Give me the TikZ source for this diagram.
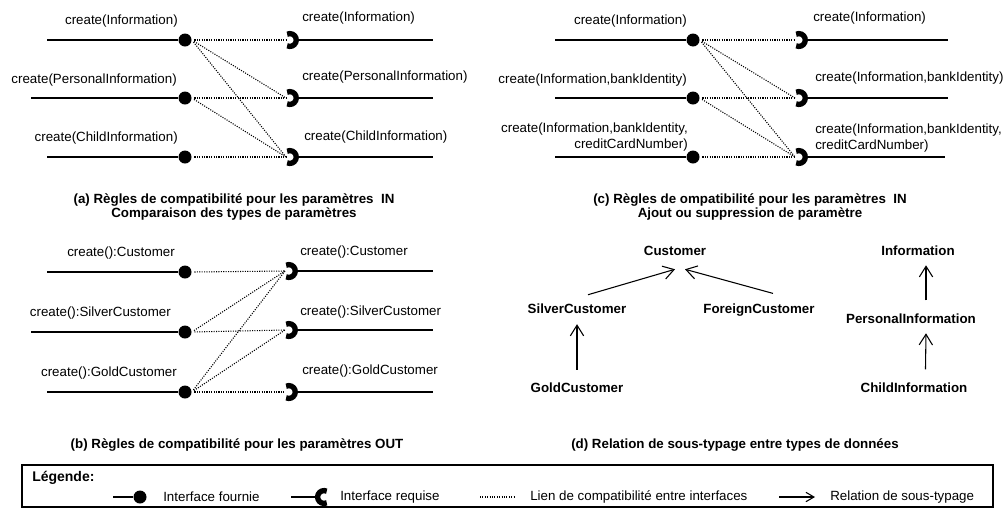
\documentclass[tikz,border=0pt]{standalone}
\usepackage{fontspec}
\setmainfont{Liberation Sans}
\usetikzlibrary{arrows.meta,positioning}

\tikzset{
  ball/.style={circle, fill=black, inner sep=0pt, minimum size=9.75pt},
  wire/.style={line width=1pt},
  link/.style={densely dotted, line width=0.8pt, shorten <=2pt},
  cupline/.style={line width=4pt},
  subtype/.style={-{Straight Barb[length=8pt, width=10pt]}, line width=0.8pt},
  caption/.style={font=\fontsize{10}{10.5}\selectfont\bfseries, align=center},
  typename/.style={font=\bfseries, inner sep=0pt, text height=7.5pt, text depth=2pt},
  opname/.style={inner sep=0pt}
}

\begin{document}
\begin{tikzpicture}[x=0.75pt, y=-0.75pt, font=\fontsize{10}{12}\selectfont]
  \useasboundingbox (0,0) rectangle (1005,508);

  % (a) parametres IN, types
  \node[ball] (a-p1) at (185,40) {};
  \node[ball] (a-p2) at (185,98) {};
  \node[ball] (a-p3) at (185,157) {};
  \coordinate (a-s1) at (47,40);
  \coordinate (a-s2) at (31,98);
  \coordinate (a-s3) at (47,157);
  \coordinate (a-r1) at (286,40);
  \coordinate (a-r2) at (286,98);
  \coordinate (a-r3) at (286,157);
  \coordinate (a-e1) at (433,40);
  \coordinate (a-e2) at (433,98);
  \coordinate (a-e3) at (433,157);
  \node[opname, anchor=east] (a-lt1) at (178,21) {create(Information)};
  \node[opname, anchor=east] (a-lt2) at (177,80) {create(PersonalInformation)};
  \node[opname, anchor=east] (a-lt3) at (178,138) {create(ChildInformation)};
  \node[opname, anchor=west] (a-rt1) at (302,18) {create(Information)};
  \node[opname, anchor=west] (a-rt2) at (302,77) {create(PersonalInformation)};
  \node[opname, anchor=west] (a-rt3) at (304,137) {create(ChildInformation)};

  % (b) parametres OUT
  \node[ball] (b-p1) at (185,272) {};
  \node[ball] (b-p2) at (185,332) {};
  \node[ball] (b-p3) at (185,392) {};
  \coordinate (b-s1) at (47,272);
  \coordinate (b-s2) at (31,332);
  \coordinate (b-s3) at (47,392);
  \coordinate (b-r1) at (285,271);
  \coordinate (b-r2) at (285,330);
  \coordinate (b-r3) at (285,392);
  \coordinate (b-e1) at (433,271);
  \coordinate (b-e2) at (433,330);
  \coordinate (b-e3) at (433,392);
  \node[opname, anchor=east] (b-lt1) at (175,253) {create():Customer};
  \node[opname, anchor=east] (b-lt2) at (171,313) {create():SilverCustomer};
  \node[opname, anchor=east] (b-lt3) at (177,373) {create():GoldCustomer};
  \node[opname, anchor=west] (b-rt1) at (300,252) {create():Customer};
  \node[opname, anchor=west] (b-rt2) at (300,312) {create():SilverCustomer};
  \node[opname, anchor=west] (b-rt3) at (302,371) {create():GoldCustomer};

  % (c) parametres IN, ajout / suppression
  \node[ball] (c-p1) at (693,40) {};
  \node[ball] (c-p2) at (693,98) {};
  \node[ball] (c-p3) at (693,157) {};
  \coordinate (c-s1) at (555,40);
  \coordinate (c-s2) at (555,98);
  \coordinate (c-s3) at (555,157);
  \coordinate (c-r1) at (795,40);
  \coordinate (c-r2) at (795,98);
  \coordinate (c-r3) at (795,157);
  \coordinate (c-e1) at (948,40);
  \coordinate (c-e2) at (948,98);
  \coordinate (c-e3) at (945,157);
  \node[opname, anchor=east] (c-lt1) at (687,21) {create(Information)};
  \node[opname, anchor=east] (c-lt2) at (687,80) {create(Information,bankIdentity)};
  \node[opname, anchor=east, align=right, font=\fontsize{10}{12.5}\selectfont] (c-lt3) at (688,137)
    {create(Information,bankIdentity,\\creditCardNumber)};
  \node[opname, anchor=west] (c-rt1) at (813,18) {create(Information)};
  \node[opname, anchor=west] (c-rt2) at (815,78) {create(Information,bankIdentity)};
  \node[opname, anchor=west, align=left, font=\fontsize{10}{12.5}\selectfont] (c-rt3) at (815,138)
    {create(Information,bankIdentity,\\creditCardNumber)};

  % wires, cups and compatibility links
  \foreach \side in {a,b,c}
    \foreach \row in {1,2,3} {
      \draw[wire] (\side-s\row) -- (\side-p\row);
      \draw[cupline] ([xshift=2.9pt]\side-r\row) ++(-115:4.8pt)
        arc[start angle=-115, end angle=115, radius=4.8pt];
      \draw[wire] ([xshift=7.2pt]\side-r\row) -- (\side-e\row);
    }
  \foreach \from/\to in {a-p1/a-r1, a-p1/a-r2, a-p1/a-r3, a-p2/a-r2, a-p2/a-r3, a-p3/a-r3,
                         c-p1/c-r1, c-p1/c-r2, c-p1/c-r3, c-p2/c-r2, c-p2/c-r3, c-p3/c-r3,
                         b-p1/b-r1, b-p2/b-r1, b-p2/b-r2, b-p3/b-r1, b-p3/b-r2, b-p3/b-r3}
    \draw[link] (\from.east) -- (\to);

  % captions
  \node[caption] (cap-a) at (234,207)
    {(a) Règles de compatibilité pour les paramètres~~IN\\Comparaison des types de paramètres};
  \node[caption] (cap-c) at (750,207)
    {(c) Règles de ompatibilité pour les paramètres~~IN\\Ajout ou suppression de paramètre};
  \node[caption] (cap-b) at (237,445) {(b) Règles de compatibilité pour les paramètres OUT};
  \node[caption] (cap-d) at (735,445) {(d) Relation de sous-typage entre types de données};

  % (d) sous-typage
  \node[typename] (customer) at (675,252) {Customer};
  \node[typename] (silver) at (577,310) {SilverCustomer};
  \node[typename] (foreign) at (759,310) {ForeignCustomer};
  \node[typename] (gold) at (577,389) {GoldCustomer};
  \node[typename] (information) at (918,252) {Information};
  \node[typename] (personal) at (911,320) {PersonalInformation};
  \node[typename] (child) at (914,389) {ChildInformation};
  \draw[subtype] ([xshift=8.25pt, yshift=6.5pt]silver.north) -- ([yshift=-8pt]customer.south);
  \draw[subtype] ([xshift=10.5pt, yshift=7.5pt]foreign.north) -- ([xshift=7.5pt, yshift=-8pt]customer.south);
  \draw[subtype] ([yshift=9.5pt]gold.north) -- ([yshift=-5.7pt]silver.south);
  \draw[subtype] ([xshift=11.25pt, yshift=9.75pt]personal.north) -- ([xshift=6pt, yshift=-5pt]information.south);
  \draw[subtype] ([xshift=8.6pt, yshift=9.75pt]child.north) -- ([xshift=11.25pt, yshift=-5pt]personal.south);

  % legende
  \draw[line width=0.8pt] (22,465) rectangle (993,507);
  \node[opname, anchor=west, font=\fontsize{10.5}{12}\selectfont\bfseries] (leg) at (32,478) {Légende:};
  \coordinate (l-s1) at (113,497);
  \node[ball] (l-ball) at (140,497) {};
  \draw[wire] (l-s1) -- (l-ball);
  \node[opname, anchor=west] (l-t1) at (163,497) {Interface fournie};
  \coordinate (l-s2) at (291,497);
  \coordinate (l-cup) at (324,497);
  \draw[wire] (l-s2) -- ([xshift=-4.4pt]l-cup);
  \draw[cupline] (l-cup) ++(65:4.8pt) arc[start angle=65, end angle=295, radius=4.8pt];
  \node[opname, anchor=west] (l-t2) at (340,497) {Interface requise};
  \coordinate (l-d1) at (480,497);
  \coordinate (l-d2) at (515,497);
  \draw[link, shorten <=0pt] (l-d1) -- (l-d2);
  \node[opname, anchor=west] (l-t3) at (530,497) {Lien de compatibilité entre interfaces};
  \coordinate (l-a1) at (779,497);
  \coordinate (l-a2) at (815,497);
  \draw[subtype, -{Straight Barb[length=6pt, width=7pt]}] (l-a1) -- (l-a2);
  \node[opname, anchor=west] (l-t4) at (830,497) {Relation de sous-typage};
\end{tikzpicture}
\end{document}
